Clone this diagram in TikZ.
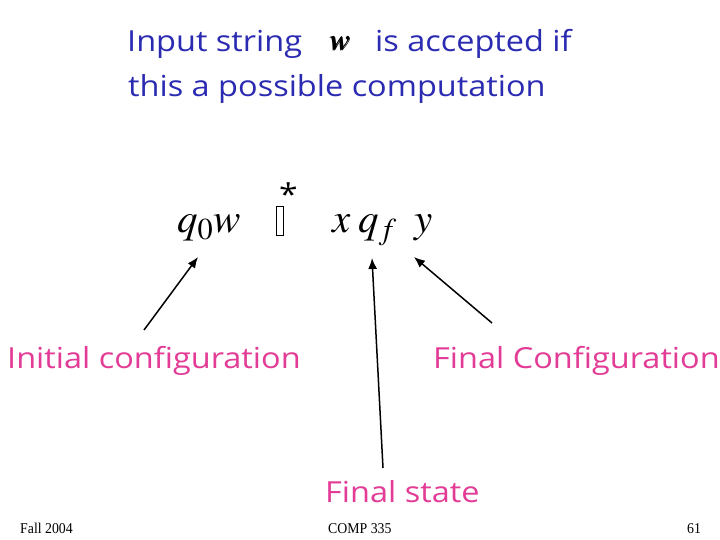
\documentclass[tikz,border=0pt]{standalone}
\usepackage{amsmath}
\usepackage{mathptmx}
\usepackage{bm}
\usepackage[no-math]{fontspec}
\setmainfont[FakeStretch=1.12]{Open Sans}
\newfontfamily\foliofont[FakeStretch=0.92]{Liberation Serif}
\usetikzlibrary{arrows.meta,calc}
\definecolor{titelblau}{HTML}{2B2BB2}
\definecolor{rosa}{HTML}{E23C96}
\tikzset{
  titel/.style={titelblau,anchor=base west,inner sep=0pt,font=\fontsize{29}{32}\selectfont},
  etikett/.style={rosa,anchor=base west,inner sep=0pt,font=\fontsize{29}{32}\selectfont},
  formel/.style={anchor=base west,inner sep=0pt,font=\fontsize{41}{44}\selectfont},
  fuss/.style={anchor=base west,inner sep=0pt,font=\foliofont\fontsize{15}{17}\selectfont},
  pfeil/.style={-{Latex[length=11pt,width=9pt]},black,line width=1.5pt},
}
\begin{document}
\begin{tikzpicture}[x=1pt,y=-1pt]
  \useasboundingbox (0,0) rectangle (720,540);
  % title
  \node[titel] (zeileA) at (127,52) {Input string};
  \node[anchor=base west,inner sep=0pt,font=\fontsize{30}{32}\selectfont] (wort) at (329,51) {$\bm{w}$};
  \node[titel] (zeileB) at (375,52) {is accepted if};
  \node[titel] (zeileC) at (128,97) {this a possible computation};
  % computation
  \node[formel] (start) at (177,233) {$q_0w$};
  \draw[line width=0.8pt] (276.5,206) rectangle (283.5,235);
  \node[anchor=base west,inner sep=0pt,font=\fontsize{30}{32}\selectfont] (stern) at (279,206) {*};
  \node[formel] (xx) at (332,233) {$x$};
  \node[formel] (qf) at (358,233) {$q_f$};
  \node[formel] (yy) at (414,233) {$y$};
  % labels
  \node[etikett] (initial) at (7,368) {Initial configuration};
  \node[etikett] (final) at (433,368) {Final Configuration};
  \node[etikett] (zustand) at (325,502) {Final state};
  % arrows
  \coordinate (s1) at (144,330);
  \coordinate (t1) at (198,257);
  \coordinate (s2) at (383,468);
  \coordinate (t2) at (372,258);
  \coordinate (s3) at (492,323);
  \coordinate (t3) at (414,257);
  \draw[pfeil] (s1) -- (t1);
  \draw[pfeil] (s2) -- (t2);
  \draw[pfeil] (s3) -- (t3);
  % footer
  \node[fuss] (semester) at (20,533) {Fall 2004};
  \node[fuss] (kurs) at (328,533) {COMP 335};
  \node[fuss] (seite) at (687,533) {61};
\end{tikzpicture}
\end{document}
